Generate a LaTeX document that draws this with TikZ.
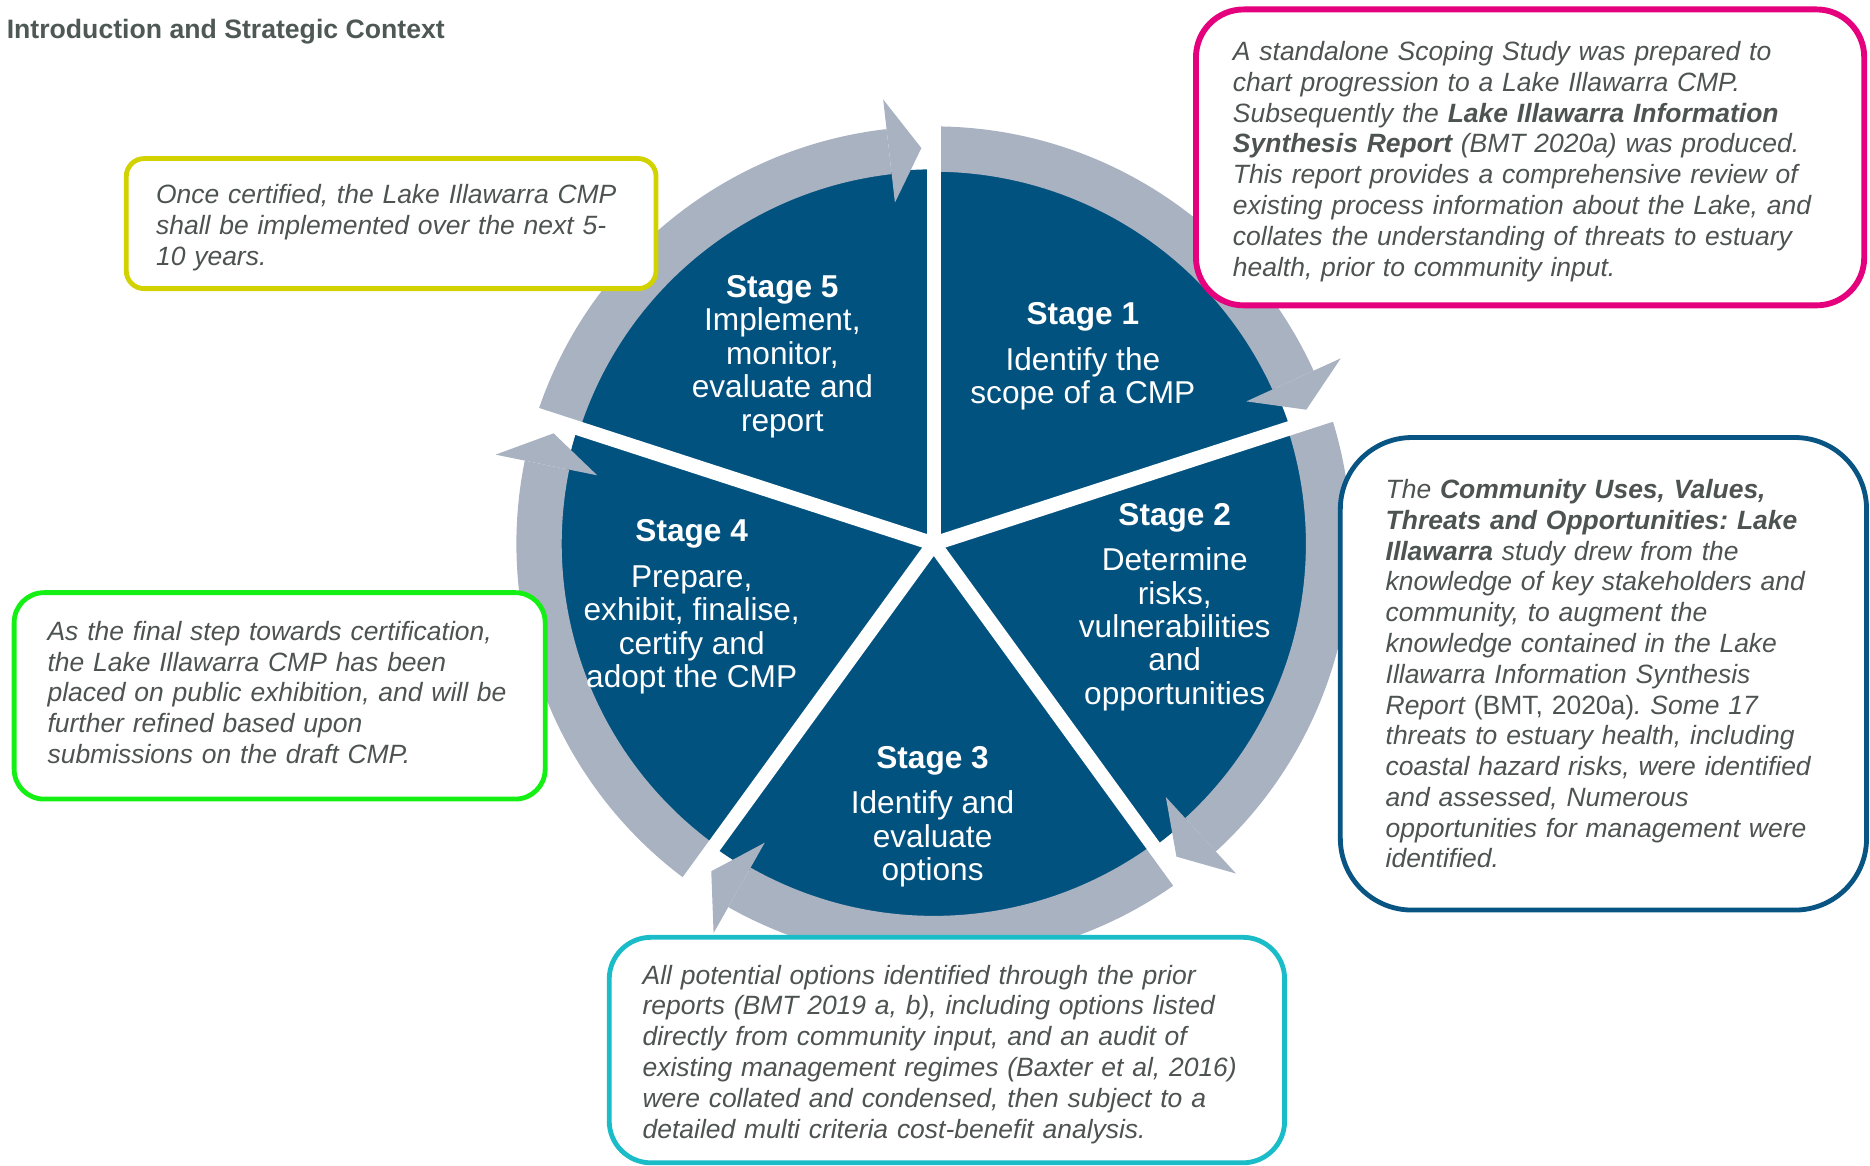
\documentclass[tikz,border=0pt]{standalone}
\usepackage{fontspec}
\setmainfont{Liberation Sans}
\usepackage{tikz}
\usetikzlibrary{positioning}
\usepackage{xcolor}
\frenchspacing
\newcommand{\pxunit}{0.01cm}
\newcommand{\notefont}{\fontsize{6.31}{7.34}\selectfont\itshape}
\newcommand{\stagefont}{\fontsize{7.54}{7.97}\selectfont}
\newcommand{\topstrut}{\rule{0pt}{0.23cm}}
\newcommand{\botstrut}{\rule[-0.06cm]{0pt}{0pt}}
\tikzset{
    notesty/.style={draw,fill=white,rectangle,align=left,text=notegray,font=\notefont,anchor=center,line width=1.15pt},
    stagesty/.style={align=center,text=white,font=\stagefont,anchor=center,inner sep=0pt},
    titlesty/.style={text=titlegray,font=\fontsize{6.35}{7.3}\selectfont\bfseries,inner sep=0pt},
    gapsty/.style={draw=white,line width=0.12cm},
    wheelsty/.style={fill=wheelblue},
    ringsty/.style={fill=ringgray},
}
\definecolor{wheelblue}{RGB}{2,82,128}
\definecolor{ringgray}{RGB}{168,178,193}
\definecolor{notegray}{RGB}{77,83,80}
\definecolor{titlegray}{RGB}{78,88,84}
\definecolor{pinkline}{RGB}{229,0,125}
\definecolor{blueline}{RGB}{8,84,130}
\definecolor{cyanline}{RGB}{26,188,200}
\definecolor{greenline}{RGB}{20,240,20}
\definecolor{yellowline}{RGB}{210,210,0}
\newcommand{\ringarrow}[2]{%
  \fill[ringsty] (#1:312) arc[start angle=#1, end angle=#2+6.5, radius=312]
    -- (#2+6.5:350) arc[start angle=#2+6.5, end angle=#1, radius=350] -- cycle;
  \fill[ringsty] (#2+6.5:288) -- (#2+1.8:332) -- (#2+6.5:375) -- cycle;
}

\begin{document}
\begin{tikzpicture}[>=latex, x=\pxunit, y=-\pxunit]
\useasboundingbox (0,0) rectangle (1568,977);

\node[titlesty, anchor=base west] (title) at (5,32) {Introduction and Strategic Context};

\begin{scope}[shift={(783,456)}, y=\pxunit]
\fill[wheelsty] (0,0) circle (314);
\ringarrow{162}{90}
\ringarrow{90}{18}
\ringarrow{18}{-54}
\ringarrow{-54}{-126}
\ringarrow{234}{162}
\draw[gapsty] (0,0) -- (90:400);
\draw[gapsty] (0,0) -- (18:400);
\draw[gapsty] (0,0) -- (-54:400);
\draw[gapsty] (0,0) -- (-126:400);
\draw[gapsty] (0,0) -- (162:400);
\end{scope}

\node[stagesty] (stage5) at (656,299) {\textbf{Stage 5}\\Implement,\\monitor,\\evaluate and\\report};
\node[stagesty] (stage1) at (908,299) {\textbf{Stage 1}\\[0.1cm]Identify the\\scope of a CMP};
\node[stagesty] (stage2) at (985,509) {\textbf{Stage 2}\\[0.1cm]Determine\\risks,\\vulnerabilities\\and\\opportunities};
\node[stagesty] (stage3) at (782,685) {\textbf{Stage 3}\\[0.1cm]Identify and\\evaluate\\options};
\node[stagesty] (stage4) at (580,509) {\textbf{Stage 4}\\[0.1cm]Prepare,\\exhibit, finalise,\\certify and\\adopt the CMP};

\node[notesty, draw=yellowline, rounded corners=0.15cm, minimum height=1.09cm, text width=3.94cm, inner xsep=0.25cm] (implnote) at (328,187.5)
  {\topstrut Once certified, the Lake Illawarra CMP\\shall be implemented over the next 5-\\10 years.};
\node[notesty, draw=pinkline, line width=1.4pt, rounded corners=0.4cm, minimum height=2.48cm, text width=4.98cm, inner xsep=0.31cm] (scopenote) at (1283,132)
  {\topstrut A standalone Scoping Study was prepared to\\chart progression to a Lake Illawarra CMP.\\Subsequently the \textbf{Lake Illawarra Information}\\\textbf{Synthesis Report} (BMT 2020a) was produced.\\This report provides a comprehensive review of\\existing process information about the Lake, and\\collates the understanding of threats to estuary\\health, prior to community input.};
\node[notesty, draw=blueline, rounded corners=0.6cm, minimum height=3.96cm, text width=3.65cm, inner xsep=0.38cm] (risknote) at (1344.5,565)
  {The \textbf{Community Uses, Values,}\\\textbf{Threats and Opportunities: Lake}\\\textbf{Illawarra} study drew from the\\knowledge of key stakeholders and\\community, to augment the\\knowledge contained in the Lake\\Illawarra Information Synthesis\\Report {\upshape(BMT, 2020a)}. Some 17\\threats to estuary health, including\\coastal hazard risks, were identified\\and assessed, Numerous\\opportunities for management were\\identified.};
\node[notesty, draw=cyanline, rounded corners=0.35cm, minimum height=1.89cm, text width=5.10cm, inner xsep=0.28cm] (optionnote) at (794,880.5)
  {\topstrut All potential options identified through the prior\\reports (BMT 2019 a, b), including options listed\\directly from community input, and an audit of\\existing management regimes (Baxter et al, 2016)\\were collated and condensed, then subject to a\\detailed multi criteria cost-benefit analysis.};
\node[notesty, draw=greenline, rounded corners=0.25cm, minimum height=1.73cm, text width=3.89cm, inner xsep=0.28cm] (adoptnote) at (234.5,583.5)
  {As the final step towards certification,\\the Lake Illawarra CMP has been\\placed on public exhibition, and will be\\further refined based upon\\submissions on the draft CMP.\botstrut};
\end{tikzpicture}
\end{document}
